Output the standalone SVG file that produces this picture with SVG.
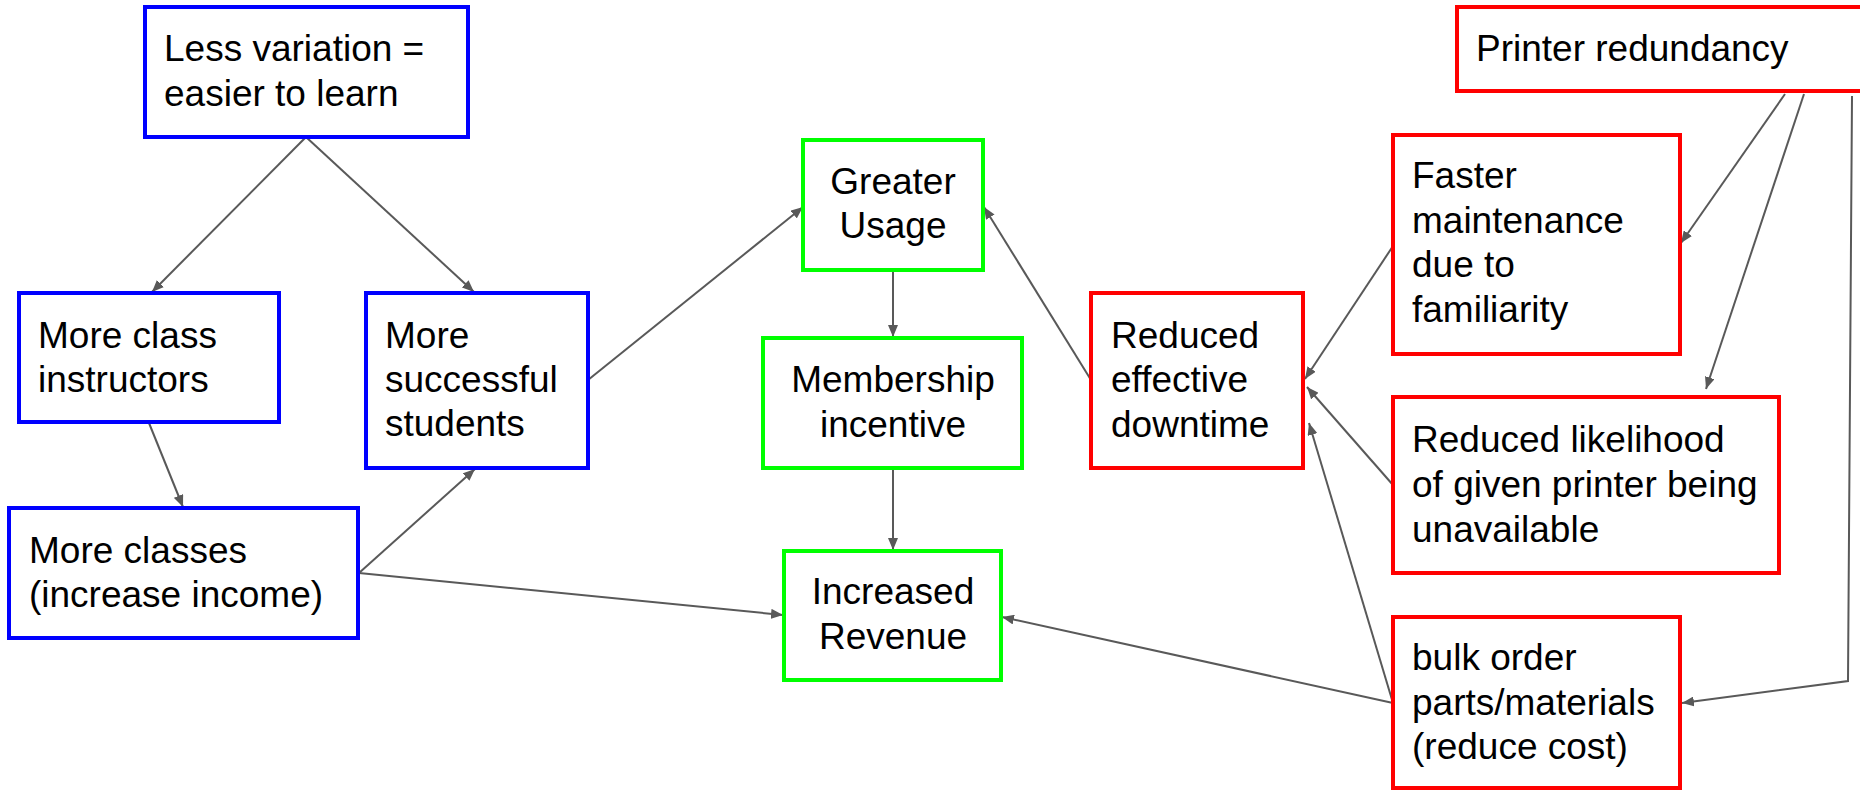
<svg xmlns="http://www.w3.org/2000/svg" width="1860" height="791" viewBox="0 0 1860 791">
<style>
.box{fill:#ffffff;stroke-width:4}
.b{stroke:#0000ff}
.g{stroke:#00ff00}
.r{stroke:#ff0000}
text{font-family:"Liberation Sans",Arial,sans-serif;font-size:37px;fill:#000000}
.c{text-anchor:middle}
.edge{fill:none;stroke:#595959;stroke-width:2}
</style>
<defs>
<marker id="ah" viewBox="0 0 12 10" refX="12" refY="5" markerWidth="12" markerHeight="10" markerUnits="userSpaceOnUse" orient="auto">
<path d="M0,0 L12,5 L0,10 z" fill="#595959"/>
</marker>
</defs>
<rect width="1860" height="791" fill="#ffffff"/>
<g id="connectors">
<line class="edge" x1="306" y1="137" x2="152" y2="292" marker-end="url(#ah)"/>
<line class="edge" x1="306" y1="137" x2="474" y2="292" marker-end="url(#ah)"/>
<line class="edge" x1="149" y1="423" x2="183" y2="507" marker-end="url(#ah)"/>
<line class="edge" x1="359" y1="573" x2="475" y2="469" marker-end="url(#ah)"/>
<line class="edge" x1="588" y1="380" x2="803" y2="207" marker-end="url(#ah)"/>
<line class="edge" x1="359" y1="573" x2="783" y2="615" marker-end="url(#ah)"/>
<line class="edge" x1="893" y1="270" x2="893" y2="337" marker-end="url(#ah)"/>
<line class="edge" x1="893" y1="468" x2="893" y2="550" marker-end="url(#ah)"/>
<line class="edge" x1="1091" y1="380" x2="984" y2="207" marker-end="url(#ah)"/>
<line class="edge" x1="1785" y1="94" x2="1681" y2="243" marker-end="url(#ah)"/>
<line class="edge" x1="1804" y1="94" x2="1706" y2="389" marker-end="url(#ah)"/>
<polyline class="edge" points="1852,96 1848,681 1682,703" marker-end="url(#ah)"/>
<line class="edge" x1="1393" y1="246" x2="1305" y2="379" marker-end="url(#ah)"/>
<line class="edge" x1="1393" y1="485" x2="1307" y2="387" marker-end="url(#ah)"/>
<line class="edge" x1="1393" y1="703" x2="1309" y2="423" marker-end="url(#ah)"/>
<line class="edge" x1="1393" y1="703" x2="1002" y2="617" marker-end="url(#ah)"/>
</g>
<g id="less-variation">
<rect class="box b" x="145" y="7" width="323" height="130"/>
<text x="164" y="61">Less variation =</text>
<text x="164" y="106">easier to learn</text>
</g>
<g id="more-class-instructors">
<rect class="box b" x="19" y="293" width="260" height="129"/>
<text x="38" y="348">More class</text>
<text x="38" y="392">instructors</text>
</g>
<g id="more-successful-students">
<rect class="box b" x="366" y="293" width="222" height="175"/>
<text x="385" y="348">More</text>
<text x="385" y="392">successful</text>
<text x="385" y="436">students</text>
</g>
<g id="more-classes">
<rect class="box b" x="9" y="508" width="349" height="130"/>
<text x="29" y="563">More classes</text>
<text x="29" y="607">(increase income)</text>
</g>
<g id="greater-usage">
<rect class="box g" x="803" y="140" width="180" height="130"/>
<text class="c" x="893" y="194">Greater</text>
<text class="c" x="893" y="238">Usage</text>
</g>
<g id="membership-incentive">
<rect class="box g" x="763" y="338" width="259" height="130"/>
<text class="c" x="893" y="392">Membership</text>
<text class="c" x="893" y="437">incentive</text>
</g>
<g id="increased-revenue">
<rect class="box g" x="784" y="551" width="217" height="129"/>
<text class="c" x="893" y="604">Increased</text>
<text class="c" x="893" y="649">Revenue</text>
</g>
<g id="reduced-effective-downtime">
<rect class="box r" x="1091" y="293" width="212" height="175"/>
<text x="1111" y="348">Reduced</text>
<text x="1111" y="392">effective</text>
<text x="1111" y="437">downtime</text>
</g>
<g id="printer-redundancy">
<rect class="box r" x="1457" y="7" width="420" height="84"/>
<text x="1476" y="61">Printer redundancy</text>
</g>
<g id="faster-maintenance">
<rect class="box r" x="1393" y="135" width="287" height="219"/>
<text x="1412" y="188">Faster</text>
<text x="1412" y="233">maintenance</text>
<text x="1412" y="277">due to</text>
<text x="1412" y="322">familiarity</text>
</g>
<g id="reduced-likelihood">
<rect class="box r" x="1393" y="397" width="386" height="176"/>
<text x="1412" y="452">Reduced likelihood</text>
<text x="1412" y="497">of given printer being</text>
<text x="1412" y="542">unavailable</text>
</g>
<g id="bulk-order">
<rect class="box r" x="1393" y="617" width="287" height="171"/>
<text x="1412" y="670">bulk order</text>
<text x="1412" y="715">parts/materials</text>
<text x="1412" y="759">(reduce cost)</text>
</g>
</svg>
